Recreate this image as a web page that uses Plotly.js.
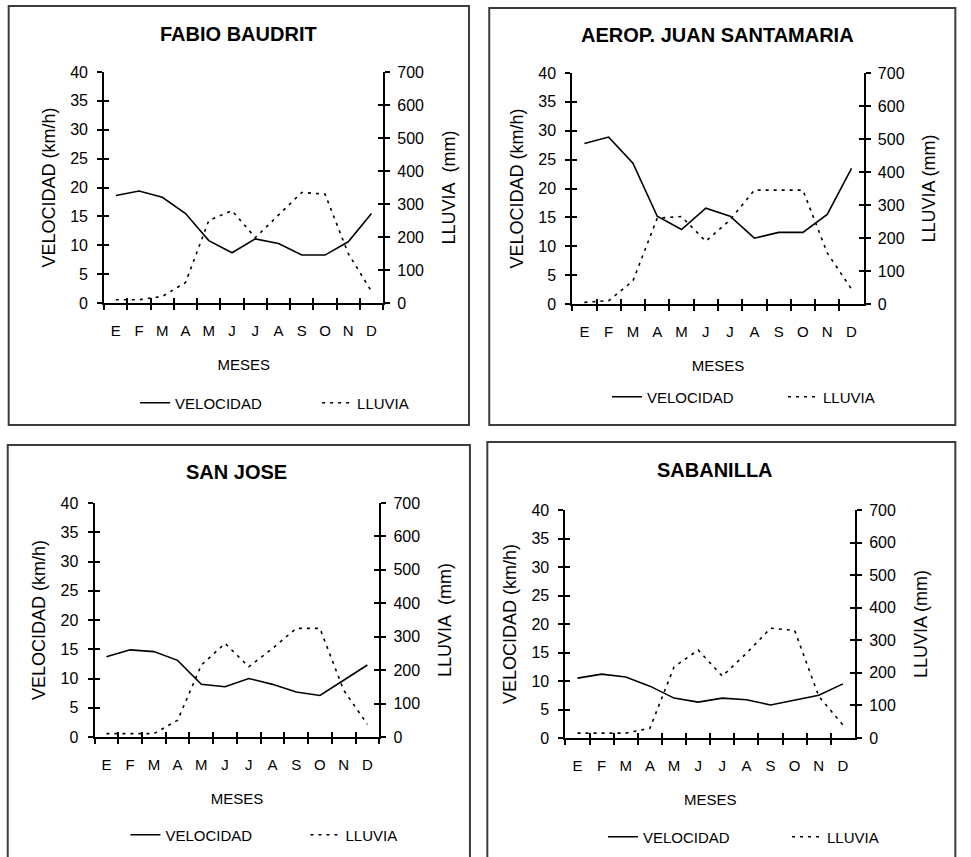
<!DOCTYPE html>
<html><head><meta charset="utf-8">
<script src="https://cdn.plot.ly/plotly-3.0.1.min.js"></script>
<style>html,body{margin:0;padding:0;background:#fff}#chart{width:971px;height:857px}</style>
</head><body><div id="chart"></div>
<script>
// ---- data ----
const months = ['Ene','Feb','Mar','Abr','May','Jun','Jul','Ago','Sep','Oct','Nov','Dic'];
const monthLetters = ['E','F','M','A','M','J','J','A','S','O','N','D'];
const stations = ['FABIO BAUDRIT','AEROP. JUAN SANTAMARIA','SAN JOSE','SABANILLA'];
const seriesNames = ['VELOCIDAD','LLUVIA'];
const velTicks = [0,5,10,15,20,25,30,35,40];
const rainTicks = [0,100,200,300,400,500,600,700];

const fabioVel  = [18.6,19.4,18.3,15.5,10.8,8.7,11.1,10.3,8.3,8.3,10.6,15.5];
const fabioRain = [10,10,20,62,250,280,198,265,335,330,150,35];
const aeroVel   = [27.8,28.9,24.4,15.2,12.9,16.6,15.2,11.4,12.4,12.4,15.5,23.5];
const aeroRain  = [5,10,70,260,265,190,255,345,345,345,155,45];
const sjVel     = [13.7,14.9,14.6,13.1,9.0,8.6,10.0,9.0,7.7,7.1,9.7,12.3];
const sjRain    = [10,10,10,50,215,280,210,265,325,325,140,38];
const sabVel    = [10.5,11.2,10.7,9.1,7.0,6.3,7.0,6.7,5.8,6.7,7.5,9.5];
const sabRain   = [15,15,15,30,218,270,190,260,337,330,128,40];

// ---- layout helpers ----
const W = 971, H = 857;
const FONT = 'Liberation Sans, Arial, Helvetica, sans-serif';
const px = v => v / W;
const py = v => 1 - v / H;
const axName = (l, n) => l + 'axis' + (n === 1 ? '' : n);
const axId = (l, n) => l + (n === 1 ? '' : n);

const panels = [
  {name: stations[0], vel: fabioVel, rain: fabioRain, plot: [108,397,72,303], title: [247,34],
   yl: 'VELOCIDAD (km/h)', yr: 'LLUVIA\u00a0 (mm)', leg: [173,403], gap: 182, box: [9,6,486,425]},
  {name: stations[1], vel: aeroVel, rain: aeroRain, plot: [593,895,73,304], title: [744,35],
   yl: 'VELOCIDAD (km/h)', yr: 'LLUVIA (mm)', leg: [662,397], gap: 176, box: [507,8,990,425]},
  {name: stations[2], vel: sjVel, rain: sjRain, plot: [98,393,503,737], title: [245,472],
   yl: 'VELOCIDAD (km/h)', yr: 'LLUVIA\u00a0 (mm)', leg: [163,835], gap: 180, box: [8,445,487,875]},
  {name: stations[3], vel: sabVel, rain: sabRain, plot: [586,886,510,738], title: [741,470],
   yl: 'VELOCIDAD (km/h)', yr: 'LLUVIA (mm)', leg: [658,837], gap: 184, box: [505,442,990,875]}
];

const boundaries = months.map((m, i) => i - 0.5).concat([months.length - 0.5]);

const layout = {
  width: W, height: H,
  margin: {l: 0, r: 0, t: 0, b: 0},
  paper_bgcolor: '#fff', plot_bgcolor: 'rgba(0,0,0,0)',
  font: {family: FONT, color: '#000', size: 15},
  showlegend: true,
  annotations: [], shapes: []
};
const data = [];

const tickBase = {ticklen: 5, tickwidth: 2, tickcolor: '#000', showgrid: false, zeroline: false, automargin: false, fixedrange: true};

panels.forEach((p, i) => {
  const xm = 2*i + 1, xo = 2*i + 2;
  const yl = 4*i + 1, ylo = 4*i + 2, yr = 4*i + 3, yro = 4*i + 4;
  const [x0, x1, y0, y1] = p.plot;
  const legKey = i === 0 ? 'legend' : 'legend' + (i + 1);

  layout[axName('x', xm)] = Object.assign({}, tickBase, {
    domain: [px(x0), px(x1)], anchor: axId('y', yl), type: 'category',
    categoryorder: 'array', categoryarray: months, range: [-0.5, months.length - 0.5],
    tickmode: 'array', tickvals: months, ticktext: monthLetters, tickson: 'boundaries',
    ticks: 'outside', showline: true, linewidth: 2, linecolor: '#000',
    tickfont: {size: 15, family: FONT, color: '#000'}, ticklabelstandoff: 13,
    title: {text: 'MESES', font: {size: 15, family: FONT, color: '#000'}, standoff: 21}
  });
  layout[axName('x', xo)] = Object.assign({}, tickBase, {
    overlaying: axId('x', xm), anchor: axId('y', yl), type: 'linear',
    range: [-0.5, months.length - 0.5], tickmode: 'array', tickvals: boundaries,
    ticks: 'inside', showticklabels: false, showline: false
  });
  layout[axName('y', yl)] = Object.assign({}, tickBase, {
    domain: [py(y1), py(y0)], anchor: axId('x', xm), type: 'linear',
    range: [0, 40], tickmode: 'array', tickvals: velTicks, ticks: 'outside',
    showline: true, linewidth: 2, linecolor: '#000',
    tickfont: {size: 16, family: FONT, color: '#000'}, ticklabelstandoff: 6,
    title: {text: p.yl, font: {size: 18, family: FONT, color: '#000'}, standoff: 10}
  });
  layout[axName('y', ylo)] = Object.assign({}, tickBase, {
    overlaying: axId('y', yl), anchor: axId('x', xm), side: 'left', type: 'linear',
    range: [0, 40], tickmode: 'array', tickvals: velTicks, ticks: 'inside',
    showticklabels: false, showline: false
  });
  layout[axName('y', yr)] = Object.assign({}, tickBase, {
    overlaying: axId('y', yl), anchor: axId('x', xm), side: 'right', type: 'linear',
    range: [0, 700], tickmode: 'array', tickvals: rainTicks, ticks: 'outside',
    showline: true, linewidth: 2, linecolor: '#000',
    tickfont: {size: 16, family: FONT, color: '#000'}, ticklabelstandoff: 4,
    title: {text: p.yr, font: {size: 18, family: FONT, color: '#000'}, standoff: 19}
  });
  layout[axName('y', yro)] = Object.assign({}, tickBase, {
    overlaying: axId('y', yl), anchor: axId('x', xm), side: 'right', type: 'linear',
    range: [0, 700], tickmode: 'array', tickvals: rainTicks, ticks: 'inside',
    showticklabels: false, showline: false
  });

  layout[legKey] = {
    orientation: 'h', x: px(p.leg[0] - 33), xanchor: 'left', y: py(p.leg[1]), yanchor: 'middle',
    font: {size: 15, family: FONT, color: '#000'}, bgcolor: 'rgba(0,0,0,0)',
    entrywidth: p.gap - 45, entrywidthmode: 'pixels', itemclick: false, itemdoubleclick: false
  };

  data.push({
    type: 'scatter', mode: 'lines', name: seriesNames[0], x: months, y: p.vel,
    xaxis: axId('x', xm), yaxis: axId('y', yl), legend: legKey,
    line: {color: '#000', width: 1.6}, hoverinfo: 'skip'
  });
  data.push({
    type: 'scatter', mode: 'lines', name: seriesNames[1], x: months, y: p.rain,
    xaxis: axId('x', xm), yaxis: axId('y', yr), legend: legKey,
    line: {color: '#000', width: 1.6, dash: '3px,5px'}, hoverinfo: 'skip'
  });
  // empty helper traces so the cross-tick overlay axes are drawn
  data.push({type: 'scatter', mode: 'lines', x: [], y: [], xaxis: axId('x', xo), yaxis: axId('y', ylo), showlegend: false, hoverinfo: 'skip'});
  data.push({type: 'scatter', mode: 'lines', x: [], y: [], xaxis: axId('x', xo), yaxis: axId('y', yro), showlegend: false, hoverinfo: 'skip'});

  layout.annotations.push({
    text: '<b>' + p.name + '</b>', x: px(p.title[0]), y: py(p.title[1]),
    xref: 'paper', yref: 'paper', xanchor: 'center', yanchor: 'middle', showarrow: false,
    font: {size: 20, family: FONT, color: '#000'}
  });
  layout.shapes.push({
    type: 'rect', xref: 'paper', yref: 'paper',
    x0: px(p.box[0]), x1: px(p.box[2]), y0: py(p.box[3]), y1: py(p.box[1]),
    line: {color: '#3c3c3c', width: 2}, fillcolor: 'rgba(0,0,0,0)', layer: 'below'
  });
});

Plotly.newPlot('chart', data, layout, {staticPlot: true, displayModeBar: false});
</script>
</body></html>
